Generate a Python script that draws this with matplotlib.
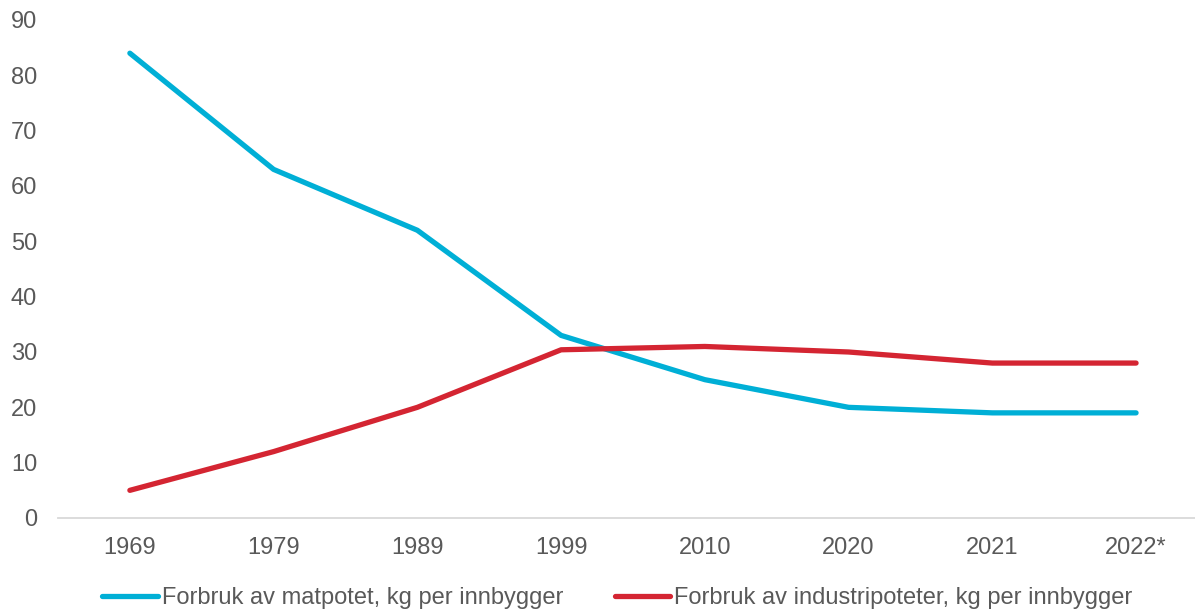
import matplotlib.pyplot as plt

plt.rcParams['font.family'] = ['Liberation Sans', 'DejaVu Sans']

years = ["1969", "1979", "1989", "1999", "2010", "2020", "2021", "2022*"]
matpotet = [84, 63, 52, 33, 25, 20, 19, 19]
industripoteter = [5, 12, 20, 30.4, 31, 30, 28, 28]

fig = plt.figure(figsize=(11.95, 6.14), dpi=100)
# axis line starts at x=58px and runs to the right edge
ax = fig.add_axes([58 / 1195, 96 / 614, 1 - 58 / 1195, 498 / 614])

x = range(len(years))
l1, = ax.plot(x, matpotet, color="#00AFD6", lw=3.8, solid_capstyle="round",
              label="Forbruk av matpotet, kg per innbygger")
l2, = ax.plot(x, industripoteter, color="#D42532", lw=3.8, solid_capstyle="round",
              label="Forbruk av industripoteter, kg per innbygger")

ax.set_xlim(-0.5, 7.41)
ax.set_ylim(0, 90)
ax.set_yticks(range(0, 91, 10))
ax.set_xticks(list(x))
ax.set_xticklabels(years)
ax.tick_params(length=0, labelsize=17, labelcolor="#595959")
ax.tick_params(axis="x", pad=14)
ax.tick_params(axis="y", pad=15)
for side in ["top", "right", "left"]:
    ax.spines[side].set_visible(False)
ax.spines["bottom"].set_color("#D9D9D9")
ax.spines["bottom"].set_linewidth(1.3)

fig.legend(handles=[l1, l2], loc="center", bbox_to_anchor=(0.5167, 0.026), ncol=2,
           frameon=False, fontsize=17, labelcolor="#595959", handlelength=2.37,
           handletextpad=0.17, columnspacing=2.16)

fig.savefig("out.png", dpi=100)
